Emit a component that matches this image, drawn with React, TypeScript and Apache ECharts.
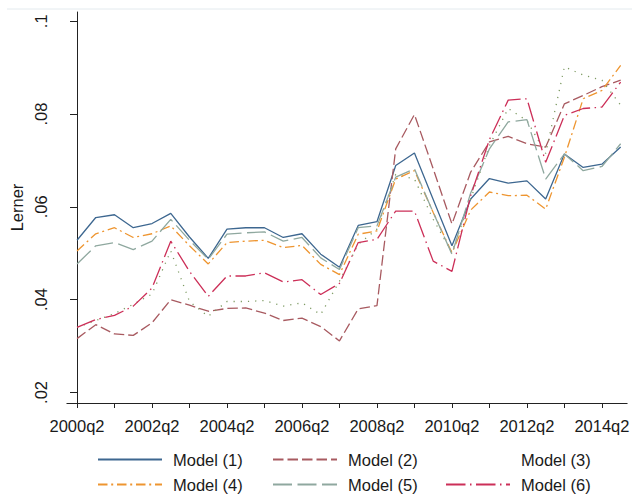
import React, { useEffect, useRef } from "react";
import * as echarts from "echarts";

// Half-yearly observation periods (q2 and q4)
const periods = [
  "2000q2", "2000q4", "2001q2", "2001q4", "2002q2", "2002q4", "2003q2", "2003q4",
  "2004q2", "2004q4", "2005q2", "2005q4", "2006q2", "2006q4", "2007q2", "2007q4",
  "2008q2", "2008q4", "2009q2", "2009q4", "2010q2", "2010q4", "2011q2", "2011q4",
  "2012q2", "2012q4", "2013q2", "2013q4", "2014q2", "2014q4",
];

const model1 = [
  0.0528, 0.0577, 0.0583, 0.0555, 0.0564, 0.0586, 0.0535, 0.0489, 0.0552, 0.0555,
  0.0555, 0.0534, 0.0542, 0.0498, 0.047, 0.056, 0.0568, 0.0689, 0.0716, 0.0616,
  0.0516, 0.0617, 0.0661, 0.0651, 0.0656, 0.0617, 0.0714, 0.0685, 0.0692, 0.0729,
];
const model2 = [
  0.0316, 0.0346, 0.0326, 0.0323, 0.035, 0.04, 0.0388, 0.0375, 0.0381, 0.0382,
  0.0371, 0.0355, 0.036, 0.0342, 0.0311, 0.038, 0.0387, 0.0725, 0.0799, 0.0682,
  0.0563, 0.0675, 0.074, 0.0752, 0.0736, 0.0729, 0.0822, 0.084, 0.0859, 0.0873,
];
const model3 = [
  0.034, 0.0355, 0.037, 0.039, 0.0412, 0.0505, 0.0396, 0.0364, 0.0396, 0.0396,
  0.0398, 0.0386, 0.0393, 0.0368, 0.044, 0.0519, 0.0552, 0.067, 0.066, 0.0573,
  0.0502, 0.0617, 0.0732, 0.0812, 0.0786, 0.0715, 0.0902, 0.0884, 0.0873, 0.0819,
];
const model4 = [
  0.0505, 0.0542, 0.0555, 0.0534, 0.0542, 0.0559, 0.0516, 0.0477, 0.0523, 0.0526,
  0.0528, 0.0512, 0.0517, 0.0476, 0.0454, 0.0541, 0.0548, 0.066, 0.0678, 0.0588,
  0.0501, 0.0593, 0.0632, 0.0624, 0.0625, 0.0595, 0.0707, 0.0833, 0.0851, 0.0905,
];
const model5 = [
  0.0477, 0.0516, 0.0523, 0.0508, 0.0526, 0.0573, 0.0528, 0.0487, 0.0541, 0.0544,
  0.0546, 0.0526, 0.0534, 0.049, 0.0465, 0.0555, 0.0559, 0.0664, 0.0682, 0.0588,
  0.0498, 0.063, 0.0725, 0.0783, 0.0788, 0.066, 0.0714, 0.0678, 0.0687, 0.0736,
];
const model6 = [
  0.034, 0.0357, 0.0366, 0.0386, 0.0425, 0.0526, 0.0461, 0.0407, 0.0451, 0.0451,
  0.0458, 0.0438, 0.0443, 0.0411, 0.0435, 0.0523, 0.053, 0.0591, 0.0591, 0.0483,
  0.0461, 0.0624, 0.0745, 0.083, 0.0833, 0.0696, 0.0797, 0.0812, 0.0815, 0.0869,
];

const seriesNames = ["Model (1)", "Model (2)", "Model (3)", "Model (4)", "Model (5)", "Model (6)"];

const xTickLabels = [
  "2000q2", "2002q2", "2004q2", "2006q2", "2008q2", "2010q2", "2012q2", "2014q2",
];
const yTickValues = [0.02, 0.04, 0.06, 0.08, 0.1];
const yTickLabels = [".02", ".04", ".06", ".08", ".1"];

// Quarters elapsed since 2000q2
const quarterIndex = (p: string) => {
  const [y, q] = p.split("q").map(Number);
  return (y - 2000) * 4 + (q - 2);
};

const FONT = "'Liberation Sans', Arial, sans-serif";
const TEXT = "#1a1a1a";

export default function App() {
  const ref = useRef<HTMLDivElement>(null);

  useEffect(() => {
    if (!ref.current) return;
    const chart = echarts.init(ref.current, undefined, { renderer: "svg" });

    const styles = [
      { color: "#3d6790", type: "solid" as any },
      { color: "#a85a60", type: [10.5, 4] },
      { color: "#7d9a62", type: [1.2, 6] },
      { color: "#ee9530", type: [9.5, 3.7, 2, 3.8] },
      { color: "#8fa89f", type: [19, 5.5] },
      { color: "#cc2f58", type: [19.5, 4.5, 1.5, 4.5] },
    ];
    const values = [model1, model2, model3, model4, model5, model6];

    const series = seriesNames.map((name, k) => ({
      name,
      type: "line",
      symbol: "none",
      showSymbol: false,
      animation: false,
      color: styles[k].color,
      lineStyle: { color: styles[k].color, width: 1.3, type: styles[k].type, cap: "butt" },
      data: periods.map((p, i) => [quarterIndex(p), values[k][i]]),
    }));

    const xLabelValues = xTickLabels.map(quarterIndex);
    const xTickValues: number[] = [];
    for (let y = 2000; y <= 2014; y++) xTickValues.push(quarterIndex(`${y}q2`));

    // One legend per column, two rows each
    const legendCol = (left: number, names: string[]) => ({
      orient: "vertical",
      left,
      top: 451,
      height: 46,
      padding: 0,
      itemWidth: 64,
      itemHeight: 16,
      itemGap: 8,
      selectedMode: false,
      itemStyle: { opacity: 0, borderWidth: 0 },
      textStyle: {
        fontFamily: FONT,
        fontSize: 16.5,
        color: TEXT,
        padding: [0, 0, 0, 6],
      },
      data: names.map((n) =>
        n === "Model (3)"
          ? { name: n, lineStyle: { opacity: 0 }, itemStyle: { opacity: 0 } }
          : { name: n }
      ),
    });

    chart.setOption({
      animation: false,
      backgroundColor: "#ffffff",
      grid: { left: 57, right: 1, top: 12, bottom: 94, containLabel: false },
      xAxis: {
        type: "value",
        min: -1.08,
        max: 58.69,
        splitLine: { show: false },
        axisLine: { show: true, onZero: false, lineStyle: { color: "#222", width: 1 } },
        axisTick: {
          show: true,
          length: 5,
          customValues: xTickValues,
          lineStyle: { color: "#222" },
        },
        axisLabel: {
          customValues: xLabelValues,
          margin: 14,
          fontFamily: FONT,
          fontSize: 16.5,
          color: TEXT,
          formatter: (v: number) => {
            const idx = xLabelValues.findIndex((q) => Math.abs(q - v) < 1e-6);
            return idx >= 0 ? xTickLabels[idx] : "";
          },
        },
      },
      yAxis: {
        type: "value",
        min: 0.01772,
        max: 0.102,
        name: "Lerner",
        nameLocation: "middle",
        nameRotate: 90,
        nameGap: 32,
        nameTextStyle: { fontFamily: FONT, fontSize: 16.5, color: TEXT },
        splitLine: { show: false },
        axisLine: { show: true, lineStyle: { color: "#222", width: 1 } },
        axisTick: {
          show: true,
          length: 7,
          customValues: yTickValues,
          lineStyle: { color: "#222" },
        },
        axisLabel: {
          customValues: yTickValues,
          rotate: 90,
          margin: 17,
          fontFamily: FONT,
          fontSize: 16.5,
          color: TEXT,
          formatter: (v: number) => {
            const idx = yTickValues.findIndex((t) => Math.abs(t - v) < 1e-9);
            return idx >= 0 ? yTickLabels[idx] : "";
          },
        },
      },
      legend: [
        legendCol(97, ["Model (1)", "Model (4)"]),
        legendCol(272, ["Model (2)", "Model (5)"]),
        legendCol(445, ["Model (3)", "Model (6)"]),
      ],
      graphic: [
        {
          type: "line",
          shape: { x1: 7, y1: 9, x2: 632, y2: 9 },
          style: { stroke: "#e3eaee", lineWidth: 1 },
          silent: true,
        },
      ],
      series,
    });

    return () => chart.dispose();
  }, []);

  return (
    <div
      ref={ref}
      style={{ position: "fixed", left: 0, top: 0, width: 632, height: 497 }}
    />
  );
}
